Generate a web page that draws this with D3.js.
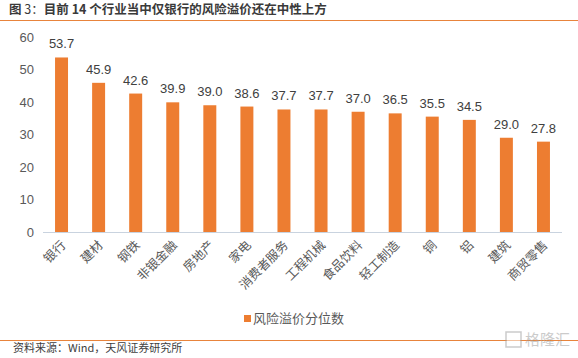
<!DOCTYPE html>
<html>
<head>
  <meta charset="utf-8">
  <title>风险溢价分位数</title>
  <script src="https://cdn.jsdelivr.net/npm/d3@7"></script>
  <style>
    body { margin: 0; background: #fff; }
    svg { font-family: "Noto Sans CJK SC", "Microsoft YaHei", sans-serif; }
    .title { font-size: 12.5px; font-weight: bold; fill: #3a3a3a; }
    .y-axis text { font-size: 13px; fill: #595959; font-family: "Liberation Sans", "Noto Sans CJK SC", sans-serif; }
    .x-label { font-size: 12.5px; fill: #595959; }
    .value { font-size: 13px; fill: #404040; font-family: "Liberation Sans", sans-serif; }
    .legend { font-size: 13px; fill: #595959; }
    .source { font-size: 11px; fill: #404040; }
  </style>
</head>
<body>
<script>

  var categories = ["银行", "建材", "钢铁", "非银金融", "房地产", "家电", "消费者服务",
                    "工程机械", "食品饮料", "轻工制造", "铜", "铝", "建筑", "商贸零售"];
  var values = [53.7, 45.9, 42.6, 39.9, 39.0, 38.6, 37.7, 37.7, 37.0, 36.5, 35.5, 34.5, 29.0, 27.8];
  var yTicks = [0, 10, 20, 30, 40, 50, 60];

  var W = 578, H = 358;
  var orange = "#ED7D31";

  var svg = d3.select("body").append("svg")
      .attr("width", W)
      .attr("height", H);

  // title + rule
  var title = svg.append("text")
      .attr("class", "title")
      .attr("x", 9)
      .attr("y", 14);
  title.append("tspan").text("图 ");
  title.append("tspan").attr("font-weight", "normal").text("3：");
  title.append("tspan").text("目前 14 个行业当中仅银行的风险溢价还在中性上方");

  svg.append("line")
      .attr("x1", 0).attr("x2", W)
      .attr("y1", 20.5).attr("y2", 20.5)
      .attr("stroke", "#E8843C")
      .attr("stroke-width", 1);

  var x = d3.scaleBand()
      .domain(categories)
      .range([43, 562])
      .paddingInner(0.65)
      .paddingOuter(0.325);

  var y = d3.scaleLinear()
      .domain([0, 60])
      .range([232, 37]);

  // y axis (labels only)
  var yAxis = d3.axisLeft(y)
      .tickValues(yTicks)
      .tickSize(0)
      .tickPadding(0);

  svg.append("g")
      .attr("class", "y-axis")
      .attr("transform", "translate(34,0)")
      .call(yAxis)
      .call(function (g) { g.select(".domain").remove(); });

  // bars
  svg.append("g")
      .selectAll("rect")
      .data(values)
      .enter().append("rect")
      .attr("x", function (d, i) { return x(categories[i]); })
      .attr("y", function (d) { return y(d); })
      .attr("width", x.bandwidth())
      .attr("height", function (d) { return y(0) - y(d); })
      .attr("fill", orange);

  // baseline
  svg.append("line")
      .attr("x1", 43).attr("x2", 562)
      .attr("y1", y(0) + 0.5).attr("y2", y(0) + 0.5)
      .attr("stroke", "#C9D3DF");

  // value labels
  svg.append("g")
      .selectAll("text")
      .data(values)
      .enter().append("text")
      .attr("class", "value")
      .attr("text-anchor", "middle")
      .attr("x", function (d, i) { return x(categories[i]) + x.bandwidth() / 2; })
      .attr("y", function (d) { return y(d) - 9; })
      .text(function (d) { return d.toFixed(1); });

  // rotated category labels
  svg.append("g")
      .selectAll("text")
      .data(categories)
      .enter().append("text")
      .attr("class", "x-label")
      .attr("text-anchor", "end")
      .attr("transform", function (d) {
        var cx = x(d) + x.bandwidth() / 2 + 5;
        return "translate(" + cx + ",246) rotate(-45)";
      })
      .text(function (d) { return d; });

  // legend
  var legend = svg.append("g").attr("transform", "translate(244,315)");
  legend.append("rect")
      .attr("width", 7).attr("height", 7)
      .attr("fill", orange);
  legend.append("text")
      .attr("class", "legend")
      .attr("x", 9)
      .attr("y", 8)
      .text("风险溢价分位数");

  // footer rule + source
  svg.append("line")
      .attr("x1", 0).attr("x2", W)
      .attr("y1", 340.5).attr("y2", 340.5)
      .attr("stroke", "#E8843C")
      .attr("stroke-width", 1);

  svg.append("text")
      .attr("class", "source")
      .attr("x", 13)
      .attr("y", 352)
      .text("资料来源：Wind，天风证券研究所");

  // watermark
  var wm = svg.append("g").attr("transform", "translate(506,332)").attr("opacity", 0.5);
  wm.append("rect")
      .attr("x", 0).attr("y", 0).attr("width", 15).attr("height", 15)
      .attr("fill", "#fff").attr("stroke", "#999").attr("stroke-width", 1.5);
  wm.append("text")
      .attr("x", 19).attr("y", 13)
      .attr("font-size", 15)
      .attr("fill", "#999")
      .text("格隆汇");

</script>
</body>
</html>
